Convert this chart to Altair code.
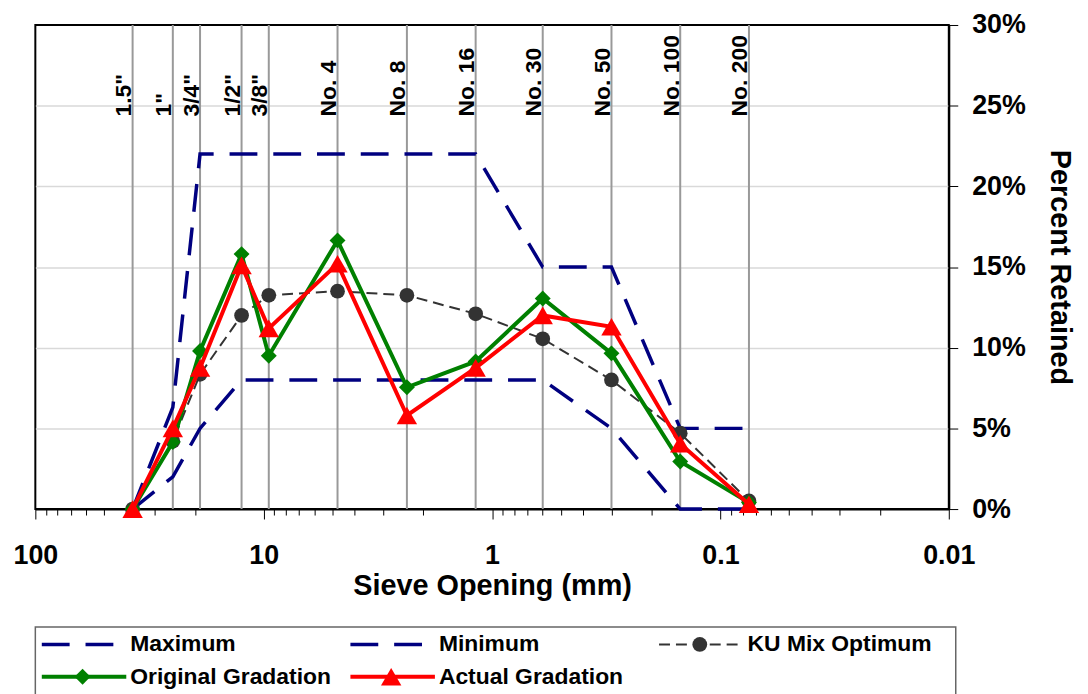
import altair as alt
import pandas as pd

# ---------------- data ----------------
sieve_labels = ['1.5"', '1"', '3/4"', '1/2"', '3/8"', "No. 4", "No. 8",
                "No. 16", "No. 30", "No. 50", "No. 100", "No. 200"]
sieve_mm = [37.5, 25.0, 19.0, 12.5, 9.5, 4.75, 2.36, 1.18, 0.6, 0.3, 0.15, 0.075]

maximum = [0, 6.3, 22, 22, 22, 22, 22, 22, 15, 15, 5, 5]
minimum = [0, 2, 5, 8, 8, 8, 8, 8, 8, 5, 0, 0]
ku_optimum = [0, 4.2, 8.35, 12.0, 13.25, 13.5, 13.25, 12.1, 10.55, 8.0, 4.7, 0.5]
original = [0, 4.15, 9.8, 15.8, 9.5, 16.65, 7.55, 9.15, 13.05, 9.65, 2.95, 0.4]
actual = [0, 5.0, 8.75, 15.1, 11.2, 15.2, 5.8, 8.75, 12.0, 11.3, 4.05, 0.3]

series_names = ["Maximum", "Minimum", "KU Mix Optimum",
                "Original Gradation", "Actual Gradation"]
series_values = [maximum, minimum, ku_optimum, original, actual]

legend_col = [0, 1, 2, 0, 1]
legend_row = [0, 0, 0, 1, 1]

x_major = [100, 10, 1, 0.1, 0.01]
y_ticks = [0, 5, 10, 15, 20, 25, 30]

# ---------------- styles ----------------
FONT = "Liberation Sans"
styles = {
    "Maximum": dict(color="#000080", width=3.5, dash=[28, 16], shape=None, size=0),
    "Minimum": dict(color="#000080", width=3.5, dash=[28, 16], shape=None, size=0),
    "KU Mix Optimum": dict(color="#333333", width=2, dash=[11, 6], shape="circle", size=220),
    "Original Gradation": dict(color="#008000", width=4, dash=None, shape="diamond", size=256),
    "Actual Gradation": dict(color="#ff0000", width=4, dash=None, shape="triangle-up", size=420),
}

rows = []
for name, vals in zip(series_names, series_values):
    for lab, mm, v in zip(sieve_labels, sieve_mm, vals):
        rows.append({"series": name, "sieve": lab, "mm": mm, "pct": v})
df = pd.DataFrame(rows)
sieves = pd.DataFrame({"sieve": sieve_labels, "mm": sieve_mm})
leg_df = pd.DataFrame({"series": series_names, "col": legend_col, "row": legend_row})

# tick positions: decades plus 2..9 minor ticks
x_tick_values = [100.0]
for d in x_major[1:]:
    for k in range(1, 10):
        x_tick_values.append(round(k * d, 6))

decade_test = "abs(log(datum.value)/LN10 - round(log(datum.value)/LN10)) < 1e-6"

x_axis = alt.Axis(
    orient="bottom", values=x_tick_values,
    labelExpr=f"({decade_test}) ? datum.value + '' : ''",
    tickSize={"condition": {"test": decade_test, "value": 10}, "value": 6},
    tickColor="black", tickWidth=1, domainColor="black", domainWidth=2,
    grid=False, labelFlush=False, labelOverlap=False,
    labelFont=FONT, labelFontSize=27, labelFontWeight="bold", labelColor="black",
    labelPadding=24,
    title="Sieve Opening (mm)", titleFont=FONT, titleFontSize=29,
    titleFontWeight="bold", titleColor="black", titlePadding=3,
)
y_axis = alt.Axis(
    orient="right", values=y_ticks, labelExpr="datum.value + '%'",
    tickSize=9, tickColor="black", tickWidth=1, domainColor="black", domainWidth=2,
    grid=True,
    gridColor={"condition": {"test": "datum.value == 0 || datum.value == 30",
                             "value": "transparent"}, "value": "#d9d9d9"},
    gridWidth=1.5,
    labelFont=FONT, labelFontSize=27, labelFontWeight="bold", labelColor="black",
    labelPadding=14,
    title="Percent Retained", titleFont=FONT, titleFontSize=29,
    titleFontWeight="bold", titleColor="black", titlePadding=19,
)

x_scale = alt.Scale(type="log", domain=[0.01, 100], reverse=True, nice=False)
y_scale = alt.Scale(domain=[0, 30], nice=False, zero=True)

X = alt.X("mm:Q", scale=x_scale, axis=x_axis)
Y = alt.Y("pct:Q", scale=y_scale, axis=y_axis)

rules = alt.Chart(sieves).mark_rule(color="#999999", strokeWidth=2).encode(x=X)
sieve_text = alt.Chart(sieves).mark_text(
    angle=270, align="left", baseline="alphabetic", dy=-1.5,
    fontSize=23, fontWeight="bold", font=FONT, color="black"
).encode(x=X, y=alt.value(92), text="sieve:N")

layers = [rules, sieve_text]
for name in series_names:
    st = styles[name]
    base = alt.Chart(df).transform_filter(alt.datum.series == name)
    kw = dict(color=st["color"], strokeWidth=st["width"])
    if st["dash"]:
        kw["strokeDash"] = st["dash"]
    layers.append(base.mark_line(**kw).encode(x=X, y=Y))
    if st["shape"]:
        layers.append(base.mark_point(shape=st["shape"], size=st["size"], filled=True,
                                      color=st["color"], opacity=1, strokeWidth=0
                                      ).encode(x=X, y=Y))

main = alt.layer(*layers).properties(
    width=919, height=487,
    view=alt.ViewBackground(stroke="black", strokeWidth=2),
)

# ---------------- legend ----------------
LX = alt.X("col:Q", scale=alt.Scale(domain=[0, 3], range=[6.5, 6.5 + 3 * 310.5], nice=False), axis=None)
LY = alt.Y("row:Q", scale=alt.Scale(domain=[0, 1], range=[17.5, 50], nice=False), axis=None)

leg_layers = []
for name in series_names:
    st = styles[name]
    b = alt.Chart(leg_df).transform_filter(alt.datum.series == name)
    kw = dict(color=st["color"], strokeWidth=st["width"], x2Offset=85)
    if st["dash"]:
        kw["strokeDash"] = st["dash"]
    leg_layers.append(b.mark_rule(**kw).encode(x=LX, x2=alt.X2("col:Q"), y=LY))
    if st["shape"]:
        leg_layers.append(b.mark_point(shape=st["shape"], size=st["size"], filled=True,
                                       color=st["color"], opacity=1, strokeWidth=0,
                                       xOffset=41).encode(x=LX, y=LY))
leg_layers.append(
    alt.Chart(leg_df).mark_text(align="left", baseline="middle", xOffset=89,
                                fontSize=23, fontWeight="bold", font=FONT, color="black")
    .encode(x=LX, y=LY, text="series:N")
)
legend = alt.layer(*leg_layers).properties(
    width=926, height=70,
    view=alt.ViewBackground(stroke="#666666", strokeWidth=1.5),
)

chart = alt.vconcat(main, legend, spacing=118.7, bounds="flush").properties(
    padding={"left": 3.5, "top": 0, "right": 5, "bottom": 0}
).configure(font=FONT)

chart.save("out.html", embed_options={"renderer": "svg", "actions": False})
